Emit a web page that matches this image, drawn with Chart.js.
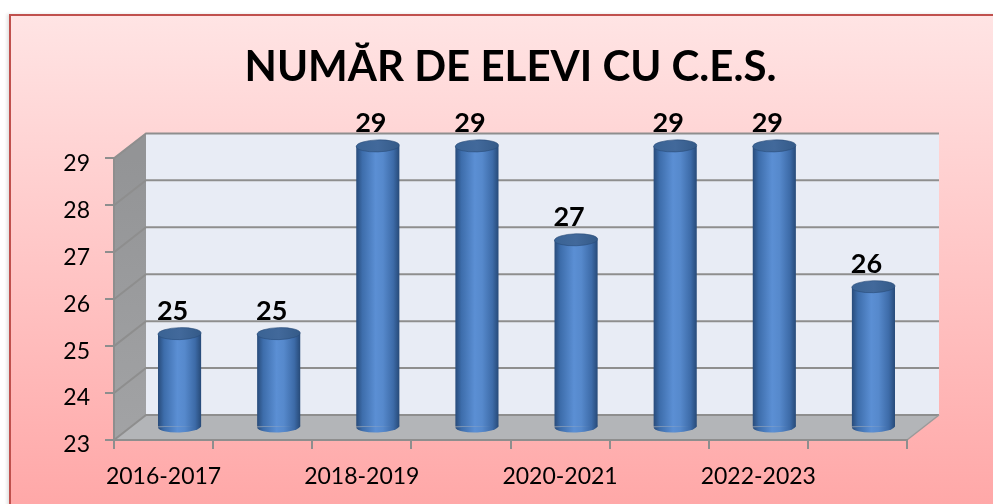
<!DOCTYPE html>
<html>
<head>
<meta charset="utf-8">
<script src="https://cdn.jsdelivr.net/npm/chart.js@4.4.1/dist/chart.umd.min.js"></script>
<style>
  html,body{margin:0;padding:0;background:#fff;overflow:hidden;}
  #wrap{position:relative;width:993px;height:504px;}
  #frame{position:absolute;left:9px;top:14px;width:1000px;height:520px;
    border-top:2px solid #c0504d;border-left:2px solid #c0504d;
    background:linear-gradient(#ffe4e4,#ffa4a4);
    box-shadow:-2px 0 3px rgba(0,0,0,0.12);}
  canvas{position:absolute;left:0;top:0;}
</style>
</head>
<body>
<div id="wrap">
  <div id="frame"></div>
  <canvas id="c" width="993" height="504"></canvas>
</div>
<script>
// data
const years = ['2016-2017','2017-2018','2018-2019','2019-2020','2020-2021','2021-2022','2022-2023','2023-2024'];
const elevi = [25, 25, 29, 29, 27, 29, 29, 26];
const yTicks = [23, 24, 25, 26, 27, 28, 29];
const titlu = 'NUMĂR DE ELEVI CU C.E.S.';

const DX = 32, DY = -25;      // depth of the 3d box
const BAR_PCT = 0.435;
const FONT = 'Lato, "Open Sans", sans-serif';

function barWidth(chart){ const xs = chart.scales.x; return xs.width / years.length * BAR_PCT; }

function bodyGrad(ctx2, x, w){
  const g = ctx2.createLinearGradient(x - w/2, 0, x + w/2, 0);
  g.addColorStop(0, '#284b7a');
  g.addColorStop(0.14, '#3d6dab');
  g.addColorStop(0.45, '#5b8fd4');
  g.addColorStop(0.62, '#5689cc');
  g.addColorStop(0.86, '#3d6ba8');
  g.addColorStop(1, '#274a78');
  return g;
}

// walls, floor and back grid
const box3d = {
  id: 'box3d',
  beforeDraw(chart){
    const {ctx, chartArea:a} = chart;
    const ys = chart.scales.y;
    ctx.save();
    // back wall
    ctx.fillStyle = '#e8ecf5';
    ctx.fillRect(a.left + DX, a.top + DY, a.right - a.left, a.bottom - a.top);
    // left wall
    const lg = ctx.createLinearGradient(0, a.top, 0, a.bottom);
    lg.addColorStop(0, '#939496'); lg.addColorStop(1, '#a2a3a5');
    ctx.fillStyle = lg;
    ctx.beginPath();
    ctx.moveTo(a.left, a.bottom); ctx.lineTo(a.left, a.top);
    ctx.lineTo(a.left + DX, a.top + DY); ctx.lineTo(a.left + DX, a.bottom + DY);
    ctx.closePath(); ctx.fill();
    // floor
    ctx.fillStyle = '#b3b5b8';
    ctx.beginPath();
    ctx.moveTo(a.left, a.bottom); ctx.lineTo(a.left + DX, a.bottom + DY);
    ctx.lineTo(a.right + DX, a.bottom + DY); ctx.lineTo(a.right, a.bottom);
    ctx.closePath(); ctx.fill();
    // grid lines on back and left walls
    ctx.strokeStyle = '#8e8e8e'; ctx.lineWidth = 2;
    yTicks.forEach(v => {
      const py = ys.getPixelForValue(v);
      ctx.beginPath();
      ctx.moveTo(a.left, py); ctx.lineTo(a.left + DX, py + DY); ctx.lineTo(a.right + DX, py + DY);
      ctx.stroke();
    });
    ctx.lineWidth = 1.5; ctx.strokeStyle = '#9a9a9a';
    ctx.beginPath();
    ctx.moveTo(a.right, a.bottom); ctx.lineTo(a.right + DX, a.bottom + DY);
    ctx.stroke();
    ctx.restore();
  },
  beforeDatasetsDraw(chart){
    chart.ctx.save();
    chart.ctx.translate(DX/2, DY/2);
  },
  afterDatasetsDraw(chart){
    const ctx = chart.ctx;
    const meta = chart.getDatasetMeta(0);
    const w = barWidth(chart);
    meta.data.forEach((el, i) => {
      const rx = w/2, ry = 6;
      // rounded bottom
      ctx.fillStyle = bodyGrad(ctx, el.x, w);
      ctx.beginPath();
      ctx.ellipse(el.x, el.base, rx, ry, -0.03, 0, Math.PI);
      ctx.fill();
      // top cap
      const cg = ctx.createLinearGradient(el.x - rx, 0, el.x + rx, 0);
      cg.addColorStop(0, '#3a6394'); cg.addColorStop(0.5, '#42699b'); cg.addColorStop(1, '#345a88');
      ctx.fillStyle = cg;
      ctx.beginPath();
      ctx.ellipse(el.x, el.y, rx, ry, -0.03, 0, Math.PI*2);
      ctx.fill();
      ctx.strokeStyle = 'rgba(40,75,120,0.6)'; ctx.lineWidth = 1;
      ctx.stroke();
      // value label
      ctx.fillStyle = '#000';
      ctx.font = 'bold 27px ' + FONT;
      ctx.textAlign = 'center';
      ctx.textBaseline = 'alphabetic';
      ctx.fillText(String(elevi[i]), el.x - 7, el.y - 14);
    });
    ctx.restore();
  }
};

new Chart(document.getElementById('c'), {
  type: 'bar',
  data: {
    labels: years,
    datasets: [{
      data: elevi,
      base: yTicks[0],
      clip: false,
      categoryPercentage: 1,
      barPercentage: BAR_PCT,
      backgroundColor: (c) => {
        const ch = c.chart;
        if (!ch.chartArea) return '#4f81bd';
        const x = ch.scales.x.getPixelForValue(c.dataIndex);
        return bodyGrad(ch.ctx, x, barWidth(ch));
      },
      borderWidth: 0
    }]
  },
  options: {
    responsive: false,
    animation: false,
    layout: { padding: { left: 0, right: 86, top: 0, bottom: 0 } },
    plugins: {
      legend: { display: false },
      tooltip: { enabled: false },
      title: {
        display: true,
        text: titlu,
        fullSize: false,
        color: '#000',
        font: { family: FONT, size: 42, weight: 'bold', lineHeight: 1.2 },
        padding: { top: 42, bottom: 66 }
      }
    },
    scales: {
      x: {
        grid: { display: true, drawOnChartArea: false, offset: true, color: '#8e8e8e', lineWidth: 2, tickLength: 9 },
        border: { display: true, color: '#8e8e8e', width: 2 },
        ticks: {
          autoSkip: false, maxRotation: 0, color: '#000', padding: 14,
          font: { family: FONT, size: 23 },
          callback: function(v, i){ return i % 2 === 0 ? this.getLabelForValue(v) : ''; }
        },
        afterFit: (s) => { s.height = 64; }
      },
      y: {
        min: 23, max: 29,
        afterBuildTicks: (s) => { s.ticks = yTicks.map(v => ({value: v})); },
        grid: { display: true, drawOnChartArea: false, color: '#8e8e8e', lineWidth: 2, tickLength: 9 },
        border: { display: true, color: '#8e8e8e', width: 2 },
        ticks: { color: '#000', padding: 15, labelOffset: 5, font: { family: FONT, size: 23 } },
        afterFit: (s) => { s.width = 114; }
      }
    }
  },
  plugins: [box3d]
});
</script>
</body>
</html>
